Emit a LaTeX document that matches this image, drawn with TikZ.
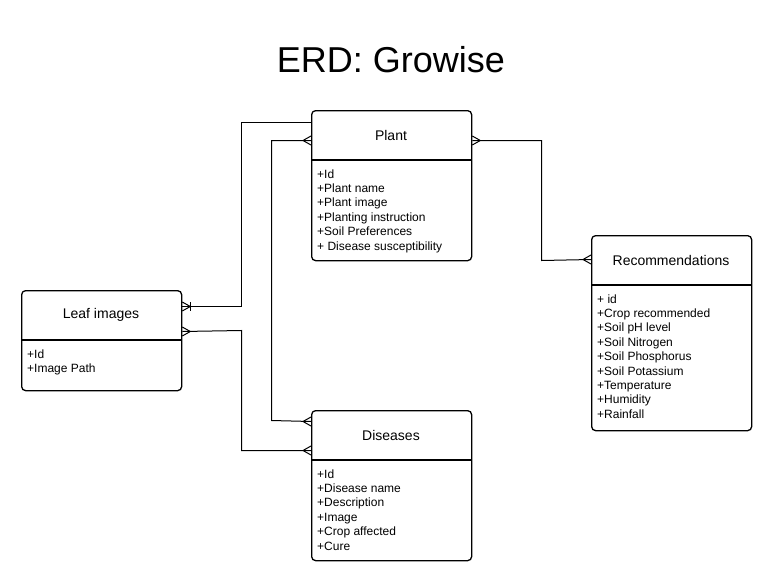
\documentclass[tikz,border=0pt]{standalone}
\usepackage{fontspec}
\setmainfont{Liberation Sans}
\usetikzlibrary{calc}
\tikzset{
  entity/.style={draw, line width=1.3pt, rounded corners=4pt, minimum width=160pt, anchor=north west, inner sep=0pt, fill=white},
  divider/.style={line width=1.3pt},
  etitle/.style={font=\fontsize{14}{16}\selectfont, inner sep=0pt},
  attr/.style={font=\fontsize{12}{14.4}\selectfont, anchor=base west, inner sep=0pt},
  conn/.style={line width=1pt},
  ermark/.style={line width=1pt},
}
% crow's foot: #1 = edge point, #2 = outward x direction (+1 or -1)
\newcommand{\crowfoot}[2]{%
  \draw[ermark] ($(#1)+(#2*8,0)$) -- ($(#1)+(0,-4.5)$);
  \draw[ermark] ($(#1)+(#2*8,0)$) -- ($(#1)+(0,4.5)$);
}
\newcommand{\onebar}[2]{%
  \draw[ermark] ($(#1)+(#2*8,-4.5)$) -- ($(#1)+(#2*8,4.5)$);
}
\begin{document}
\begin{tikzpicture}[x=1pt,y=-1pt]
\useasboundingbox[fill=white] (0,0) rectangle (772,581);

\node[font=\fontsize{36}{40}\selectfont, inner sep=0pt] (title) at (391,60) {ERD: Growise};

% Plant
\node[entity, minimum height=150pt] (plant) at (311,110) {};
\draw[divider] (311,160) -- (471,160);
\node[etitle] (plantT) at (391,135) {Plant};
\node[attr] (p1) at (317,178.0) {+Id};
\node[attr] (p2) at (317,192.4) {+Plant name};
\node[attr] (p3) at (317,206.8) {+Plant image};
\node[attr] (p4) at (317,221.2) {+Planting instruction};
\node[attr] (p5) at (317,235.6) {+Soil Preferences};
\node[attr] (p6) at (317,250.0) {+ Disease susceptibility};

% Leaf images
\node[entity, minimum height=100pt] (leaf) at (21,290) {};
\draw[divider] (21,340) -- (181,340);
\node[etitle] (leafT) at (101,315) {Leaf images};
\node[attr] (l1) at (27,358.0) {+Id};
\node[attr] (l2) at (27,372.4) {+Image Path};

% Diseases
\node[entity, minimum height=150pt] (dis) at (311,410) {};
\draw[divider] (311,460) -- (471,460);
\node[etitle] (disT) at (391,435) {Diseases};
\node[attr] (d1) at (317,478.0) {+Id};
\node[attr] (d2) at (317,492.4) {+Disease name};
\node[attr] (d3) at (317,506.8) {+Description};
\node[attr] (d4) at (317,521.2) {+Image};
\node[attr] (d5) at (317,535.6) {+Crop affected};
\node[attr] (d6) at (317,550.0) {+Cure};

% Recommendations
\node[entity, minimum height=195pt] (rec) at (591,235) {};
\draw[divider] (591,285) -- (751,285);
\node[etitle] (recT) at (671,260) {Recommendations};
\node[attr] (r1) at (597,303.0) {+ id};
\node[attr] (r2) at (597,317.4) {+Crop recommended};
\node[attr] (r3) at (597,331.8) {+Soil pH level};
\node[attr] (r4) at (597,346.2) {+Soil Nitrogen};
\node[attr] (r5) at (597,360.6) {+Soil Phosphorus};
\node[attr] (r6) at (597,375.0) {+Soil Potassium};
\node[attr] (r7) at (597,389.4) {+Temperature};
\node[attr] (r8) at (597,403.8) {+Humidity};
\node[attr] (r9) at (597,418.2) {+Rainfall};

% connection points
\coordinate (cL1) at (leaf.east |- 0,306.5);
\coordinate (cL2) at (leaf.east |- 0,331.5);
\coordinate (cP1) at (plant.west |- 0,122.5);
\coordinate (cP2) at (plant.west |- 0,140.5);
\coordinate (cP3) at (plant.east |- 0,140.5);
\coordinate (cD1) at (dis.west |- 0,421.5);
\coordinate (cD2) at (dis.west |- 0,450.5);
\coordinate (cR1) at (rec.west |- 0,259.5);

% connectors
\draw[conn] (cL1) -- (241.5,306.5) -- (241.5,122.5) -- (cP1);
\draw[conn] (cL2) -- (241.5,330.5) -- (241.5,450.5) -- (cD2);
\draw[conn] (cP2) -- (271.5,140.5) -- (271.5,420.5) -- (cD1);
\draw[conn] (cP3) -- (541.5,140.5) -- (541.5,260.5) -- (cR1);

% markers
\crowfoot{cL1}{1}\onebar{cL1}{1}
\crowfoot{cL2}{1}
\crowfoot{cD2}{-1}
\crowfoot{cP2}{-1}
\crowfoot{cD1}{-1}
\crowfoot{cP3}{1}
\crowfoot{cR1}{-1}
\end{tikzpicture}
\end{document}
